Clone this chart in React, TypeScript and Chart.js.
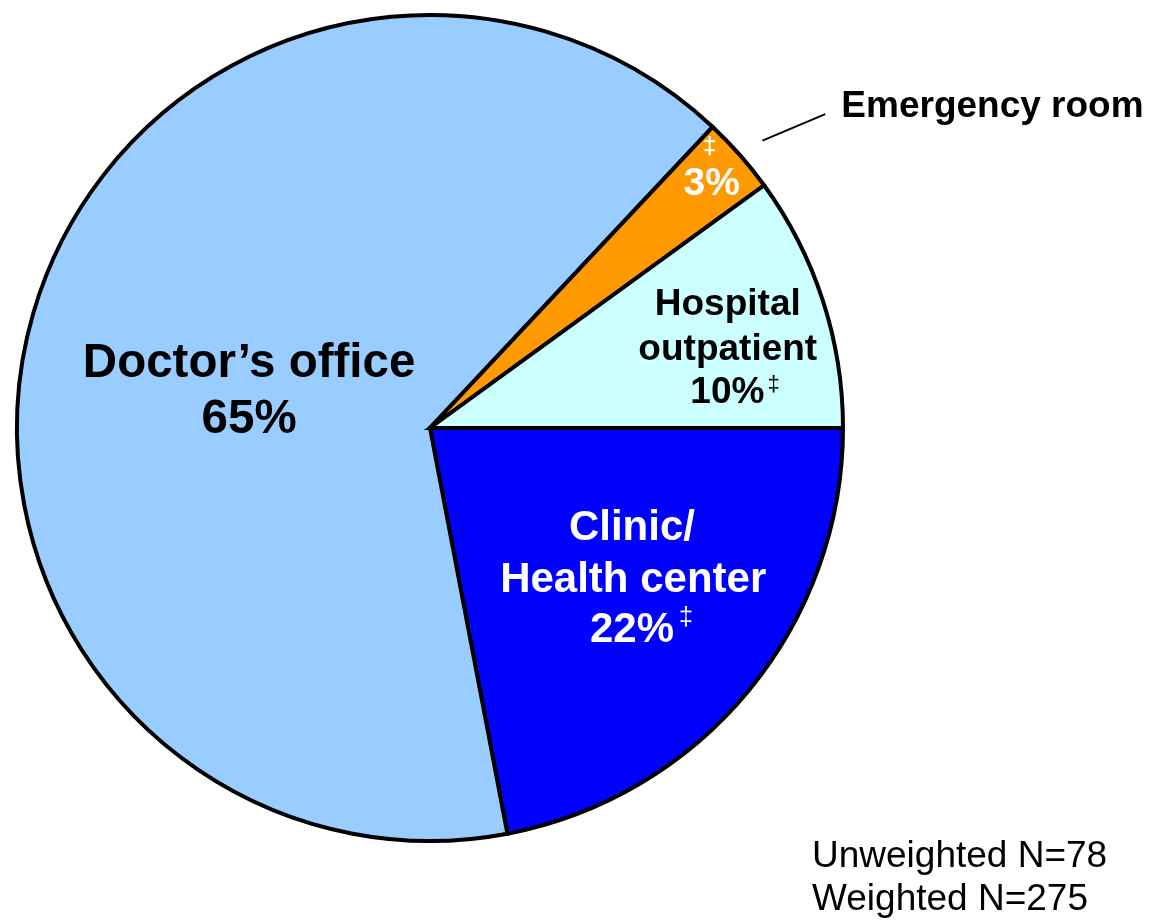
import React, { useEffect, useRef } from "react";
import { Chart, registerables } from "chart.js";

Chart.register(...registerables);

const categories = ["Clinic/Health center", "Doctor\u2019s office", "Emergency room", "Hospital outpatient"];
const percentValues = [22, 65, 3, 10];
const sliceColors = ["#0000FF", "#99CCFF", "#FF9900", "#CCFFFF"];
const footnotes = ["Unweighted N=78", "Weighted N=275"];

const FONT = '"Liberation Sans", Arial, Helvetica, sans-serif';

type Line = { text: string; size: number; dx: number; dy: number; sup?: string; supSize?: number; supDy?: number; supGap?: number };
type LabelSpec = { color: string; lines: Line[] };

// offsets relative to the pie centre, in fractions of the outer radius
const labelSpecs: LabelSpec[] = [
  {
    color: "#FFFFFF",
    lines: [
      { text: "Clinic/", size: 42, dx: 0.489, dy: 0.271 },
      { text: "Health center", size: 42, dx: 0.492, dy: 0.397 },
      { text: `${percentValues[0]}%`, size: 42, dx: 0.489, dy: 0.518, sup: "\u2021", supSize: 25, supDy: -0.04, supGap: 5 },
    ],
  },
  {
    color: "#000000",
    lines: [
      { text: "Doctor\u2019s office", size: 47.5, dx: -0.438, dy: -0.123 },
      { text: `${percentValues[1]}%`, size: 47.5, dx: -0.438, dy: 0.012 },
    ],
  },
  {
    color: "#FFFFFF",
    lines: [
      { text: "\u2021", size: 24, dx: 0.677, dy: -0.663 },
      { text: `${percentValues[2]}%`, size: 39, dx: 0.682, dy: -0.563 },
    ],
  },
  {
    color: "#000000",
    lines: [
      { text: "Hospital", size: 37, dx: 0.721, dy: -0.273 },
      { text: "outpatient", size: 37, dx: 0.721, dy: -0.165 },
      { text: `${percentValues[3]}%`, size: 37, dx: 0.72, dy: -0.06, sup: "\u2021", supSize: 22, supDy: -0.03, supGap: 3 },
    ],
  },
];

const labelPlugin = {
  id: "sliceLabels",
  afterDatasetsDraw(chart: any) {
    const ctx = chart.ctx as CanvasRenderingContext2D;
    const meta = chart.getDatasetMeta(0);
    if (!meta.data.length) return;
    const arc0 = meta.data[0] as any;
    const cx = arc0.x;
    const cy = arc0.y;
    const R = arc0.outerRadius;
    ctx.save();
    labelSpecs.forEach((spec) => {
      ctx.fillStyle = spec.color;
      spec.lines.forEach((ln) => {
        ctx.font = `bold ${ln.size}px ${FONT}`;
        ctx.textAlign = "center";
        ctx.textBaseline = "alphabetic";
        const x = cx + ln.dx * R;
        const y = cy + ln.dy * R;
        ctx.fillText(ln.text, x, y);
        if (ln.sup) {
          const w = ctx.measureText(ln.text).width;
          ctx.font = `${ln.supSize}px ${FONT}`;
          ctx.textAlign = "left";
          ctx.fillText(ln.sup, x + w / 2 + (ln.supGap || 3), y + (ln.supDy || 0) * R);
        }
      });
    });

    // Emergency room outside label with leader line
    ctx.strokeStyle = "#000000";
    ctx.lineWidth = 2;
    ctx.beginPath();
    ctx.moveTo(cx + 0.805 * R, cy - 0.696 * R);
    ctx.lineTo(cx + 0.957 * R, cy - 0.760 * R);
    ctx.stroke();
    ctx.fillStyle = "#000000";
    ctx.font = `bold 37px ${FONT}`;
    ctx.textAlign = "left";
    ctx.textBaseline = "alphabetic";
    ctx.fillText(categories[2], cx + 0.996 * R, cy - 0.752 * R);

    // footnotes
    ctx.font = `37px ${FONT}`;
    ctx.fillText(footnotes[0], 812, 867);
    ctx.fillText(footnotes[1], 812, 910);
    ctx.restore();
  },
};

export default function App() {
  const ref = useRef<HTMLCanvasElement | null>(null);
  useEffect(() => {
    if (!ref.current) return;
    const chart = new Chart(ref.current, {
      type: "pie",
      data: {
        labels: categories,
        datasets: [
          {
            data: percentValues,
            backgroundColor: sliceColors,
            borderColor: "#000000",
            borderWidth: 4,
            borderJoinStyle: "miter",
          } as any,
        ],
      },
      options: {
        responsive: false,
        animation: false,
        rotation: 90,
        layout: { padding: { left: 15, top: 13, right: 305, bottom: 77 } },
        plugins: {
          legend: { display: false },
          tooltip: { enabled: false },
          title: { display: false },
        },
      },
      plugins: [labelPlugin],
    });
    return () => chart.destroy();
  }, []);
  return (
    <div style={{ position: "absolute", left: 0, top: 0, width: 1150, height: 920, background: "#FFFFFF" }}>
      <canvas ref={ref} width={1150} height={920} style={{ width: 1150, height: 920 }} />
    </div>
  );
}
